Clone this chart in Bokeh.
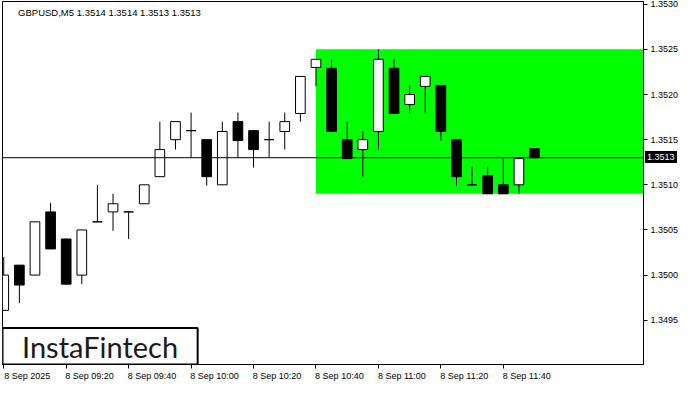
from bokeh.plotting import figure
from bokeh.models import Range1d, FixedTicker, Span, Label, ColumnDataSource, LinearAxis, Div
from bokeh.embed import file_html
from bokeh.resources import INLINE
from bokeh.core.properties import value

# ---------------- data ----------------
times = ["09:00", "09:05", "09:10", "09:15", "09:20", "09:25", "09:30", "09:35",
         "09:40", "09:45", "09:50", "09:55", "10:00", "10:05", "10:10", "10:15",
         "10:20", "10:25", "10:30", "10:35", "10:40", "10:45", "10:50", "10:55",
         "11:00", "11:05", "11:10", "11:15", "11:20", "11:25", "11:30", "11:35",
         "11:40", "11:45", "11:50"]
opens = [1.34961, 1.35011, 1.35000, 1.35070, 1.35040, 1.35000, 1.35059, 1.35070,
         1.35070, 1.35079, 1.35109, 1.35150, 1.35160, 1.35150, 1.35100, 1.35170,
         1.35160, 1.35150, 1.35159, 1.35179, 1.35230, 1.35229, 1.35150, 1.35139,
         1.35159, 1.35229, 1.35189, 1.35209, 1.35210, 1.35150, 1.35100, 1.35110,
         1.35100, 1.35100, 1.35140]
highs = [1.35020, 1.35011, 1.35059, 1.35080, 1.35040, 1.35050, 1.35100, 1.35090,
         1.35070, 1.35100, 1.35170, 1.35170, 1.35180, 1.35150, 1.35170, 1.35180,
         1.35160, 1.35170, 1.35180, 1.35220, 1.35239, 1.35239, 1.35170, 1.35159,
         1.35250, 1.35239, 1.35210, 1.35220, 1.35210, 1.35150, 1.35120, 1.35120,
         1.35130, 1.35129, 1.35140]
lows = [1.34961, 1.34969, 1.35000, 1.35029, 1.34990, 1.34990, 1.35059, 1.35049,
        1.35040, 1.35079, 1.35109, 1.35139, 1.35130, 1.35099, 1.35100, 1.35130,
        1.35119, 1.35130, 1.35139, 1.35170, 1.35209, 1.35159, 1.35129, 1.35109,
        1.35139, 1.35179, 1.35179, 1.35179, 1.35149, 1.35099, 1.35100, 1.35090,
        1.35090, 1.35090, 1.35130]
closes = [1.35000, 1.34989, 1.35059, 1.35029, 1.34990, 1.35050, 1.35059, 1.35079,
          1.35070, 1.35100, 1.35139, 1.35170, 1.35160, 1.35109, 1.35159, 1.35149,
          1.35139, 1.35150, 1.35170, 1.35220, 1.35239, 1.35159, 1.35129, 1.35150,
          1.35239, 1.35179, 1.35200, 1.35220, 1.35159, 1.35109, 1.35100, 1.35090,
          1.35090, 1.35129, 1.35130]

zone_start_index = 20
zone_top = 1.3525
zone_bottom = 1.3509
current_price = 1.3513

x_tick_indices = [0, 4, 8, 12, 16, 20, 24, 28, 32]
y_ticks = [1.3495, 1.3500, 1.3505, 1.3510, 1.3515, 1.3520, 1.3525, 1.3530]
y_tick_labels = ["1.3495", "1.3500", "1.3505", "1.3510", "1.3515", "1.3520", "1.3525", "1.3530"]
title_text = "GBPUSD,M5  1.3514 1.3514 1.3513 1.3513"

# ---------------- figure ----------------
W, H = 684, 384
BORDER_L, BORDER_T, BORDER_R, BORDER_B = 2, 1, 41, 20
X0, X1 = -0.08, 40.98
Y0, Y1 = 1.34901, 1.35303
LABEL_SHIFT = 1.5   # labels start at their tick (left aligned look)

p = figure(width=W, height=H, output_backend="svg", toolbar_location=None,
           x_range=Range1d(X0, X1), y_range=Range1d(Y0, Y1),
           y_axis_location="right", min_border_left=BORDER_L, min_border_top=BORDER_T,
           min_border_right=BORDER_R, min_border_bottom=BORDER_B)
p.background_fill_color = "white"
p.border_fill_color = "white"
p.outline_line_color = "black"
p.outline_line_width = 1
p.grid.visible = False

AX_FONT = "Liberation Sans"

# x axis: tick marks only
xa = p.xaxis[0]
xa.ticker = FixedTicker(ticks=x_tick_indices)
xa.major_label_overrides = {i: "" for i in x_tick_indices}
xa.major_label_text_font_size = "0px"
xa.major_label_standoff = 0
xa.major_tick_out = 4
xa.major_tick_in = 0
xa.minor_tick_out = 0
xa.minor_tick_in = 0
xa.axis_line_color = "black"

# x axis labels, placed so that each text starts at its tick
label_ticks = [i + LABEL_SHIFT for i in x_tick_indices]
xl = LinearAxis(ticker=FixedTicker(ticks=label_ticks))
xl.major_label_overrides = {
    i + LABEL_SHIFT: ("8 Sep 2025" if i == 0 else "8 Sep " + times[i]) for i in x_tick_indices
}
xl.major_label_text_font = AX_FONT
xl.major_label_text_font_size = "9px"
xl.major_label_text_color = "black"
xl.major_tick_out = 0
xl.major_tick_in = 0
xl.minor_tick_out = 0
xl.minor_tick_in = 0
xl.major_label_standoff = 2
xl.axis_line_color = None
p.add_layout(xl, "below")

# y axis
p.yaxis.ticker = FixedTicker(ticks=y_ticks)
p.yaxis.major_label_overrides = {t: l for t, l in zip(y_ticks, y_tick_labels)}
p.yaxis.major_label_text_font = AX_FONT
p.yaxis.major_label_text_font_size = "9px"
p.yaxis.major_label_text_color = "black"
p.yaxis.major_tick_out = 4
p.yaxis.major_tick_in = 0
p.yaxis.minor_tick_out = 0
p.yaxis.minor_tick_in = 0
p.yaxis.major_label_standoff = 3
p.yaxis.axis_line_color = "black"

# green zone
p.quad(left=[zone_start_index], right=[X1 + 5], top=[zone_top], bottom=[zone_bottom],
       fill_color="#00FF00", line_color=None)

# current price line
p.add_layout(Span(location=current_price, dimension="width", line_color="black", line_width=1))

# candles
idx = list(range(len(times)))
colors = ["white" if c >= o else "black" for o, c in zip(opens, closes)]
src = ColumnDataSource(dict(
    x=idx, o=opens, h=highs, l=lows, c=closes,
    top=[max(o, c) for o, c in zip(opens, closes)],
    bot=[min(o, c) for o, c in zip(opens, closes)],
    color=colors,
))
p.segment(x0="x", y0="l", x1="x", y1="h", source=src, line_color="black", line_width=1)
p.vbar(x="x", width=0.62, top="top", bottom="bot", source=src,
       fill_color="color", line_color="black", line_width=1)

# title
p.add_layout(Label(x=0.92, y=1.35291, text=title_text, text_font=AX_FONT,
                   text_font_size="9.5px", text_color="black", text_baseline="middle"))

# logo box
p.quad(left=[X0], right=[12.42], top=[1.349415], bottom=[Y0],
       fill_color="white", line_color="black", line_width=2)
p.text(x=[6.17], y=[1.349205], text=["InstaFintech"], text_font=value("Lato"),
       text_font_size="29px", text_color="#1a1a1a", text_align="center",
       text_baseline="middle")

# current price marker on the axis (floating element over the axis panel)
frame_h = H - BORDER_T - BORDER_B
py = BORDER_T + (Y1 - current_price) / (Y1 - Y0) * frame_h
marker = Div(text="1.3513", styles={
    "position": "absolute", "left": f"{W - BORDER_R + 2}px", "top": f"{py - 6:.1f}px",
    "background-color": "black", "color": "white", "font-family": AX_FONT,
    "font-size": "9px", "line-height": "12px", "padding": "0 2px",
})
p.elements = [marker]

open("out.html", "w").write(file_html(p, INLINE))
